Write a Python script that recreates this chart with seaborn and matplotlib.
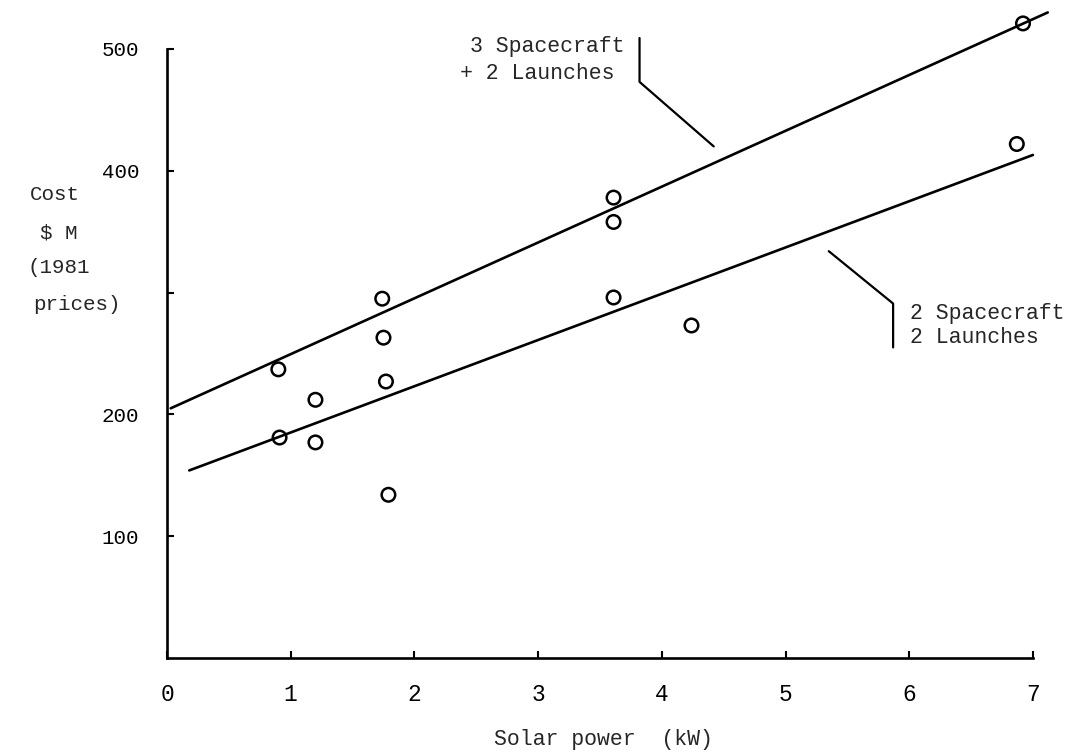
import matplotlib
matplotlib.use("Agg")
import matplotlib.pyplot as plt
import seaborn as sns
import pandas as pd

# ---- data ----
solar_kw = [0.90, 0.91, 1.20, 1.20, 1.74, 1.75, 1.77, 1.79, 3.61, 3.61, 3.61, 4.24, 6.87, 6.92]
cost_musd = [237, 181, 212, 177, 295, 263, 227, 134, 378, 358, 296, 273, 422, 521]

upper_x = [0.03, 7.12]   # 3 Spacecraft + 2 Launches
upper_y = [205, 530]
lower_x = [0.18, 7.00]   # 2 Spacecraft 2 Launches
lower_y = [154, 413]

x_ticks = [0, 1, 2, 3, 4, 5, 6, 7]
y_ticks = [100, 200, 300, 400, 500]
y_ticklabels = ["100", "200", "", "400", "500"]

sns.set_style("white")
plt.rcParams["font.family"] = ["Liberation Mono", "DejaVu Sans"]

fig = plt.figure(figsize=(10.77, 7.56), dpi=100)
W, H = 1077, 756
ax = fig.add_axes([167 / W, (H - 658) / H, (W - 167) / W, 658 / H])
ax.set_xlim(0, 910 / 123.7)
ax.set_ylim(0, 658 / 1.218)

pts = pd.DataFrame({"x": solar_kw, "y": cost_musd})
sns.scatterplot(data=pts, x="x", y="y", ax=ax, marker="o", s=95,
                facecolor="none", edgecolor="black", linewidth=1.8, zorder=3)

lines = pd.DataFrame({
    "x": upper_x + lower_x,
    "y": upper_y + lower_y,
    "series": ["upper"] * 2 + ["lower"] * 2,
})
sns.lineplot(data=lines, x="x", y="y", units="series", estimator=None,
             color="black", linewidth=1.9, ax=ax, sort=False)

# leader lines for labels
ax.plot([3.82, 3.82, 4.42], [509, 473, 420], color="black", lw=1.6)
ax.plot([5.35, 5.87, 5.87], [334, 291, 255], color="black", lw=1.6)

fs = 15.5
ax.text(3.70, 502, "3 Spacecraft", ha="right", va="center", fontsize=fs)
ax.text(3.62, 480, "+ 2 Launches", ha="right", va="center", fontsize=fs)
ax.text(6.01, 283, "2 Spacecraft", ha="left", va="center", fontsize=fs)
ax.text(6.01, 263, "2 Launches", ha="left", va="center", fontsize=fs)

# axes styling
for side in ["top", "right"]:
    ax.spines[side].set_visible(False)
ax.spines["left"].set_bounds(0, 500)
ax.spines["bottom"].set_bounds(0, 7)
for side in ["left", "bottom"]:
    ax.spines[side].set_linewidth(1.9)
    ax.spines[side].set_color("black")

ax.set_xticks(x_ticks)
ax.set_xticklabels([str(t) for t in x_ticks])
ax.set_yticks(y_ticks)
ax.set_yticklabels(y_ticklabels)
ax.tick_params(axis="both", direction="in", length=5, width=1.5, colors="black",
               bottom=True, left=True, top=False, right=False)
ax.tick_params(axis="x", pad=18, labelsize=16.5)
ax.tick_params(axis="y", pad=20, labelsize=15)
ax.set_xlabel("")
ax.set_ylabel("")

fig.text(603 / W, 1 - 740 / H, "Solar power  (kW)", ha="center", va="center", fontsize=15.5)

ylab = [("Cost", 30, 195), ("$ M", 40, 233), ("(1981", 28, 268), ("prices)", 33, 304)]
for txt, px, py in ylab:
    fig.text(px / W, 1 - py / H, txt, ha="left", va="center", fontsize=15)

fig.savefig("out.png", dpi=100)
